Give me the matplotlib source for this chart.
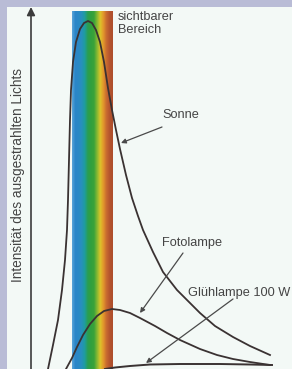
import numpy as np
import matplotlib
matplotlib.use('Agg')
import matplotlib.pyplot as plt
from matplotlib.colors import LinearSegmentedColormap

plt.rcParams['font.family'] = ['Liberation Sans', 'DejaVu Sans']

# Wellenlänge (ohne Skala) und Intensität
sonne_x = [48, 53, 58, 62, 65, 67, 68, 69, 70, 71, 73, 76, 80, 84, 88, 92, 96, 100,
           104, 108, 112, 116, 120, 126, 132, 138, 143, 153, 163, 177, 190, 200,
           215, 233, 250, 270]
sonne_y = [-2, 22, 47, 77, 107, 137, 167, 207, 247, 277, 305, 325, 338, 344, 346,
           344, 337, 325, 305, 279, 257, 237, 218, 192, 169, 151, 137, 115, 95,
           77, 64, 54, 41, 30, 21, 12]

foto_x = [66, 72, 77, 83, 90, 97, 104, 112, 120, 130, 140, 155, 167, 180, 200,
          217, 233, 250, 270]
foto_y = [-2, 9, 20, 32, 43, 51, 56, 58, 57, 54, 49, 41, 34, 27, 18, 12, 8, 5, 2]

gluehl_x = [105, 115, 130, 150, 180, 220, 250, 272]
gluehl_y = [-2, -0.5, 1, 2.5, 3, 3, 2.5, 2]

# sichtbarer Bereich (Grenzen auf der Wellenlängenachse)
sichtbar = (72, 113)
spektrum = ['#5aa4d8', '#2a86c8', '#2a88c6', '#2890bc', '#1e9ca0', '#2a9e52',
            '#30a03e', '#3aa23a', '#88b832', '#dcc42a', '#e2962c', '#c86a30',
            '#b4542e', '#ae4e2c']

fig = plt.figure(figsize=(2.92, 3.69), dpi=100, facecolor='#b9bcd6')
ax = fig.add_axes([7 / 292, 0, 285 / 292, 362 / 369])
ax.set_facecolor('#f3f9f6')

cmap = LinearSegmentedColormap.from_list('spek', spektrum)
grad = np.linspace(0, 1, 200).reshape(1, -1)
ax.imshow(grad, extent=(sichtbar[0], sichtbar[1], -2, 356), aspect='auto',
          cmap=cmap, zorder=1)

lc = '#3a3232'
ax.plot(sonne_x, sonne_y, color=lc, lw=1.3, zorder=3, solid_joinstyle='round')
ax.plot(foto_x, foto_y, color=lc, lw=1.3, zorder=3, solid_joinstyle='round')
ax.plot(gluehl_x, gluehl_y, color=lc, lw=1.4, zorder=3, solid_joinstyle='round')

# Achsen mit Pfeilen
ax.annotate('', xy=(31, 360), xytext=(31, -4),
            arrowprops=dict(arrowstyle='-|>', color='#3c3c3c', lw=1.2,
                            mutation_scale=12, shrinkA=0, shrinkB=0))
ax.annotate('', xy=(282, -3), xytext=(31, -3),
            arrowprops=dict(arrowstyle='-|>', color='#3c3c3c', lw=1.2,
                            mutation_scale=10, shrinkA=0, shrinkB=0))

ax.text(18, 192, 'Intensität des ausgestrahlten Lichts', rotation=90,
        ha='center', va='center', fontsize=9.8, color='#444444')

tc = '#444444'
ax.text(118, 356, 'sichtbarer\nBereich', ha='left', va='top', fontsize=9.2,
        color=tc, linespacing=1.15)

pfeil = dict(arrowstyle='-|>', color='#4a4a4a', lw=0.9, mutation_scale=7,
             shrinkA=0, shrinkB=0)
ax.text(162, 252, 'Sonne', ha='left', va='center', fontsize=9.2, color=tc)
ax.annotate('', xy=(121, 224), xytext=(162, 240), arrowprops=pfeil)
ax.text(162, 124, 'Fotolampe', ha='left', va='center', fontsize=9.2, color=tc)
ax.annotate('', xy=(140, 54), xytext=(183, 114), arrowprops=pfeil)
ax.text(188, 74, 'Glühlampe 100 W', ha='left', va='center', fontsize=9.2, color=tc)
ax.annotate('', xy=(146, 4), xytext=(233, 68), arrowprops=pfeil)

ax.set_xlim(7, 292)
ax.set_ylim(-2, 360)
ax.set_xticks([])
ax.set_yticks([])
for s in ax.spines.values():
    s.set_visible(False)

fig.savefig('out.png', dpi=100, facecolor=fig.get_facecolor())
